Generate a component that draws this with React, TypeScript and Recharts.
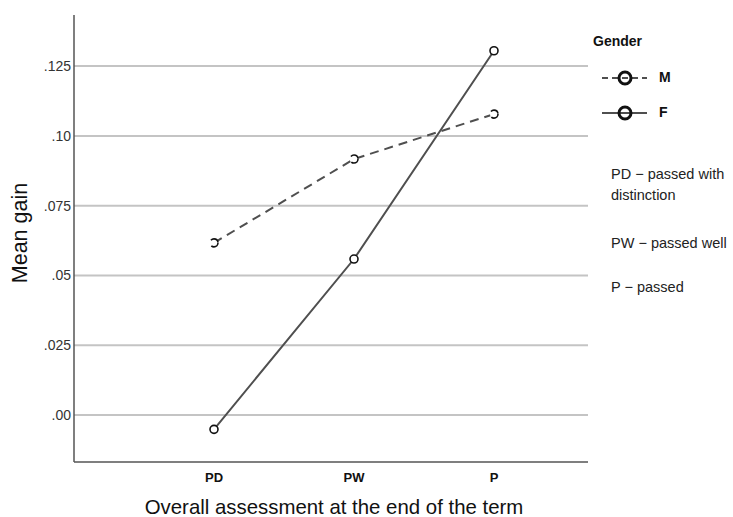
import { Line, LineChart, ReferenceLine, XAxis, YAxis } from 'recharts';

const categories = ['PD', 'PW', 'P'];
const maleGain = [0.0617, 0.0917, 0.1078];
const femaleGain = [-0.0051, 0.0559, 0.1305];
const yTicks = [0, 0.025, 0.05, 0.075, 0.1, 0.125];
const yTickLabels = ['.00', '.025', '.05', '.075', '.10', '.125'];
const notes = [
  { text: 'PD − passed with', top: 166 },
  { text: 'distinction', top: 187 },
  { text: 'PW − passed well', top: 235 },
  { text: 'P − passed', top: 279 }
];

const data = categories.map((c, i) => ({ cat: c, M: maleGain[i], F: femaleGain[i] }));

const font = '"Liberation Sans", Arial, sans-serif';
const lineColor = '#4f4f4f';
const axisColor = '#555555';

const dot = { r: 4, stroke: '#111', strokeWidth: 1.6, fill: '#fff' };

export default function App() {
  return (
    <div style={{ position: 'absolute', left: 0, top: 0, width: 733, height: 517, background: '#fff', fontFamily: font, overflow: 'hidden' }}>
      <LineChart width={733} height={517} data={data} margin={{ top: 15, right: 145, bottom: 0, left: 0 }}>
        <XAxis
          dataKey="cat"
          height={55}
          padding={{ left: 140, right: 94 }}
          axisLine={{ stroke: axisColor, strokeWidth: 1.5 }}
          tickLine={false}
          tickSize={0}
          tickMargin={11}
          tick={{ fill: '#111', fontSize: 13, fontWeight: 'bold', fontFamily: font }}
        />
        <YAxis
          width={74}
          domain={[-0.0168, 0.1433]}
          ticks={yTicks}
          tickFormatter={(v: number) => yTickLabels[yTicks.indexOf(v)] ?? ''}
          axisLine={{ stroke: axisColor, strokeWidth: 1.5 }}
          tickLine={false}
          tickSize={0}
          tickMargin={3}
          tick={{ fill: '#333', fontSize: 14, fontFamily: font }}
          allowDataOverflow
        />
        {yTicks.map((t) => (
          <ReferenceLine key={t} y={t} stroke="#c4c4c4" strokeWidth={2} />
        ))}
        <Line dataKey="M" stroke={lineColor} strokeWidth={2} strokeDasharray="9 6" dot={dot} isAnimationActive={false} />
        <Line dataKey="F" stroke={lineColor} strokeWidth={2} dot={dot} isAnimationActive={false} />
      </LineChart>

      <div style={{ position: 'absolute', left: 20, top: 233, transform: 'translate(-50%, -50%) rotate(-90deg)', fontSize: 21.5, color: '#111', whiteSpace: 'nowrap' }}>
        Mean gain
      </div>
      <div style={{ position: 'absolute', left: 334, top: 507, transform: 'translate(-50%, -50%)', fontSize: 20.4, color: '#111', whiteSpace: 'nowrap' }}>
        Overall assessment at the end of the term
      </div>

      <div style={{ position: 'absolute', left: 593, top: 33, fontSize: 14, fontWeight: 'bold', color: '#111' }}>Gender</div>
      <svg style={{ position: 'absolute', left: 596, top: 65 }} width={60} height={60}>
        <line x1={6} y1={13} x2={51} y2={13} stroke={lineColor} strokeWidth={2} strokeDasharray="6 4" />
        <circle cx={29} cy={13} r={6} fill="none" stroke="#111" strokeWidth={3} />
        <line x1={6} y1={48} x2={51} y2={48} stroke={lineColor} strokeWidth={2} />
        <circle cx={29} cy={48} r={6} fill="none" stroke="#111" strokeWidth={3} />
      </svg>
      <div style={{ position: 'absolute', left: 659, top: 69, fontSize: 14, fontWeight: 'bold', color: '#111' }}>M</div>
      <div style={{ position: 'absolute', left: 659, top: 104, fontSize: 14, fontWeight: 'bold', color: '#111' }}>F</div>

      {notes.map((n) => (
        <div key={n.text} style={{ position: 'absolute', left: 611, top: n.top, fontSize: 14.5, color: '#222', whiteSpace: 'nowrap' }}>
          {n.text}
        </div>
      ))}
    </div>
  );
}
